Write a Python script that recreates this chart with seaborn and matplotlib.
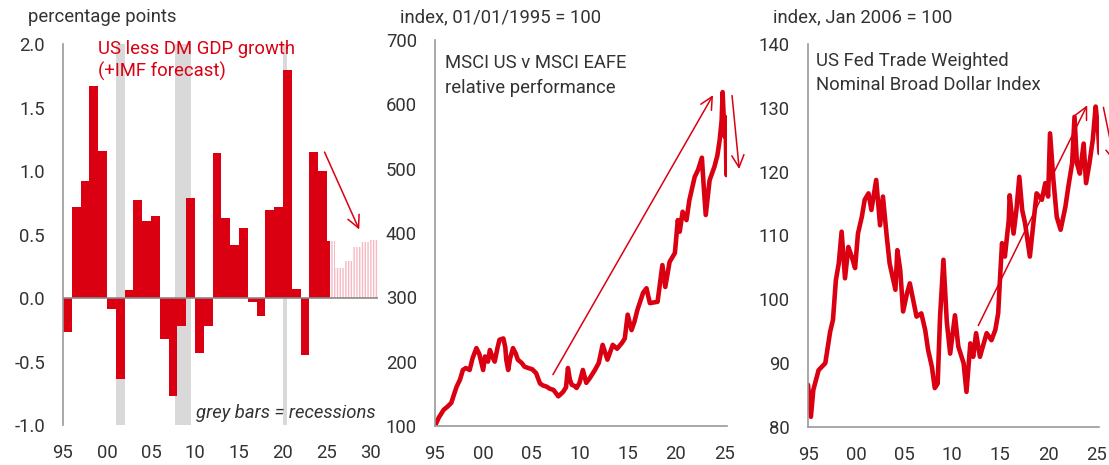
import numpy as np
import pandas as pd
import matplotlib
matplotlib.use("Agg")
import matplotlib.pyplot as plt
import seaborn as sns

# ---------------- data ----------------
gdp_years = list(range(1995, 2026))
gdp_diff = [-0.27, 0.72, 0.92, 1.67, 1.16, -0.09, -0.64, 0.06, 0.77, 0.61,
            0.65, -0.32, -0.77, -0.22, 0.79, -0.43, -0.22, 1.14, 0.63, 0.42,
            0.55, -0.03, -0.14, 0.69, 0.72, 1.80, 0.07, -0.45, 1.15, 1.00,
            0.45]
fc_years = [2025, 2026, 2027, 2028, 2029, 2030]
fc_diff = [0.45, 0.24, 0.29, 0.40, 0.44, 0.46]
recessions = [(2001.05, 2002.0), (2007.77, 2009.55), (2020.0, 2020.5)]

msci_t = [1995.0, 1995.4, 1995.9, 1996.3, 1996.7, 1997.0, 1997.25, 1997.6, 1997.9, 1998.2,
          1998.6, 1998.9, 1999.3, 1999.6, 2000.0, 2000.2, 2000.5, 2000.7, 2001.0, 2001.2,
          2001.5, 2001.7, 2002.1, 2002.3, 2002.4, 2002.6, 2002.8, 2003.1, 2003.4, 2003.6,
          2004.0, 2004.3, 2004.7, 2005.1, 2005.5, 2005.9, 2006.2, 2006.6, 2006.9, 2007.3,
          2007.6, 2007.8, 2008.1, 2008.3, 2008.6, 2008.8, 2009.0, 2009.2, 2009.5, 2009.7,
          2010.0, 2010.35, 2010.7, 2011.1, 2011.6, 2012.0, 2012.4, 2012.9, 2013.45, 2013.9,
          2014.4, 2014.7, 2015.0, 2015.4, 2015.7, 2016.0, 2016.6, 2016.95, 2017.3, 2017.7,
          2018.1, 2018.6, 2018.9, 2019.35, 2019.9, 2020.2, 2020.4, 2020.7, 2021.1, 2021.4,
          2021.95, 2022.3, 2022.7, 2022.9, 2023.1, 2023.5, 2024.0, 2024.3, 2024.55, 2024.75,
          2024.85, 2024.95, 2025.05, 2025.15, 2025.25, 2025.3]
msci_v = [100, 113, 125, 130, 136, 150, 161, 172, 187, 190,
          187, 205, 221, 212, 187, 208, 200, 218, 206, 200,
          222, 234, 236, 222, 203, 187, 205, 221, 212, 203,
          198, 192, 190, 188, 182, 166, 163, 161, 158, 156,
          150, 146, 150, 153, 160, 190, 172, 164, 162, 159,
          167, 187, 167, 175, 187, 198, 226, 203, 226, 220,
          229, 236, 273, 249, 262, 280, 307, 314, 291, 292,
          293, 350, 316, 355, 369, 420, 402, 433, 420, 451,
          487, 498, 517, 470, 428, 482, 503, 520, 545, 575,
          619, 585, 550, 580, 490, 500]

usd_t = [1995.0, 1995.3, 1995.55, 1996.1, 1996.8, 1997.3, 1997.6, 1997.9, 1998.2, 1998.5,
         1998.85, 1999.2, 1999.55, 1999.9, 2000.2, 2000.6, 2000.9, 2001.3, 2001.6, 2002.1,
         2002.5, 2002.8, 2003.2, 2003.5, 2004.1, 2004.3, 2004.6, 2004.9, 2005.3, 2005.6,
         2005.95, 2006.3, 2006.8, 2007.2, 2007.5, 2007.9, 2008.2, 2008.5, 2008.75, 2009.1,
         2009.45, 2009.8, 2010.3, 2010.65, 2011.2, 2011.5, 2011.9, 2012.2, 2012.5, 2012.9,
         2013.6, 2014.1, 2014.5, 2014.8, 2015.0, 2015.2, 2015.5, 2015.9, 2016.0, 2016.4,
         2016.7, 2017.0, 2017.3, 2017.6, 2018.1, 2018.5, 2018.8, 2019.35, 2019.7, 2020.0,
         2020.2, 2020.55, 2020.9, 2021.3, 2021.8, 2022.1, 2022.5, 2022.75, 2023.0, 2023.3,
         2023.7, 2023.95, 2024.3, 2024.65, 2024.95, 2025.2, 2025.35]
usd_v = [86.6, 81.6, 85.8, 88.9, 90.0, 94.9, 96.8, 103.0, 105.6, 110.6,
         103.3, 108.2, 106.7, 104.9, 110.3, 112.9, 115.6, 116.6, 114.0, 118.7,
         111.6, 116.1, 109.8, 105.6, 101.5, 107.7, 104.6, 98.1, 100.9, 102.5,
         99.9, 97.3, 97.8, 95.2, 92.1, 89.4, 86.1, 86.8, 97.3, 106.2,
         96.5, 91.5, 97.5, 92.6, 90.0, 85.5, 93.1, 91.0, 94.7, 91.0,
         94.7, 93.6, 95.2, 97.8, 103.5, 108.8, 106.7, 112.4, 116.3, 110.3,
         114.0, 119.2, 114.0, 111.9, 106.7, 112.4, 116.6, 115.6, 118.2, 116.1,
         126.0, 118.7, 112.9, 110.9, 114.5, 117.6, 121.3, 128.6, 121.3, 119.7,
         124.4, 118.2, 121.3, 125.0, 130.2, 126.5, 122.9]

# ---------------- style ----------------
sns.set_theme(style="white")
plt.rcParams["font.family"] = ["Roboto", "DejaVu Sans"]
plt.rcParams["font.weight"] = "normal"
plt.rcParams["axes.unicode_minus"] = False
plt.rcParams["hatch.linewidth"] = 1.0

RED = "#db0011"
PINK = "#f6b9c3"
GREY_AX = "#9a9a9a"
REC = "#d9d9d9"
TXT = "#333333"
FS = 13.3

fig = plt.figure(figsize=(11.09, 4.65), dpi=100)
ax1 = fig.add_axes([0.0568, 0.086, 0.284, 0.819])
ax2 = fig.add_axes([0.3922, 0.084, 0.2633, 0.830])
ax3 = fig.add_axes([0.7286, 0.0817, 0.2624, 0.8237])


def style_axis(ax, bottom=True):
    for s in ["top", "right"]:
        ax.spines[s].set_visible(False)
    ax.spines["left"].set_color(GREY_AX)
    ax.spines["left"].set_linewidth(1.2)
    ax.spines["bottom"].set_visible(bottom)
    ax.spines["bottom"].set_color(GREY_AX)
    ax.spines["bottom"].set_linewidth(1.2)
    ax.tick_params(axis="both", length=0, labelsize=FS, colors=TXT)
    ax.tick_params(axis="y", pad=13)
    ax.tick_params(axis="x", pad=14)
    ax.grid(False)


year_fmt = matplotlib.ticker.FuncFormatter(lambda x, p: f"{int(round(x)) % 100:02d}")

# ---------------- panel 1: bars ----------------
for a, b in recessions:
    ax1.axvspan(a, b, color=REC, lw=0, zorder=0)

widths = [1.0] * (len(gdp_years) - 1) + [0.4]
fc_x = [2025.0] + [y - 0.1 for y in fc_years[1:]]
fc_w = [0.9] + [1.0] * (len(fc_years) - 1)
ax1.bar(fc_x, fc_diff, width=fc_w, align="edge", facecolor="white",
        edgecolor=PINK, hatch="||||||", linewidth=0, zorder=1)
ax1.bar(gdp_years, gdp_diff, width=widths, align="edge", color=RED,
        linewidth=0, zorder=2)
ax1.axhline(0, color="#8a8a8a", lw=1.2, zorder=3)
ax1.set_xlim(1995, 2030.8)
ax1.set_ylim(-1.0, 2.0)
ax1.set_xticks([1995, 2000, 2005, 2010, 2015, 2020, 2025, 2030])
ax1.xaxis.set_major_formatter(year_fmt)
ax1.set_yticks([-1.0, -0.5, 0.0, 0.5, 1.0, 1.5, 2.0])
ax1.yaxis.set_major_formatter(matplotlib.ticker.FormatStrFormatter("%.1f"))
style_axis(ax1, bottom=False)
ax1.text(1999.0, 2.03, "US less DM GDP growth\n(+IMF forecast)", color=RED,
         fontsize=FS, va="top", ha="left", linespacing=1.2)
ax1.text(2030.5, -0.98, "grey bars = recessions", style="italic", color=TXT,
         fontsize=FS, va="bottom", ha="right")
ax1.annotate("", xy=(2028.8, 0.52), xytext=(2024.6, 1.17),
             arrowprops=dict(arrowstyle="->", color=RED, lw=1.1,
                             mutation_scale=22), annotation_clip=False)
fig.text(28 / 1109, 1 - 17 / 465, "percentage points", fontsize=FS, color=TXT,
         va="center", ha="left")

# ---------------- panel 2: MSCI ----------------
df2 = pd.DataFrame({"t": msci_t, "v": msci_v})
sns.lineplot(data=df2, x="t", y="v", ax=ax2, color=RED, lw=3.3)
ax2.set_xlim(1995, 2025.3)
ax2.set_ylim(100, 700)
ax2.set_xticks([1995, 2000, 2005, 2010, 2015, 2020, 2025])
ax2.xaxis.set_major_formatter(year_fmt)
ax2.set_yticks(range(100, 701, 100))
ax2.set_xlabel("")
ax2.set_ylabel("")
style_axis(ax2)
ax2.text(1996.0, 678, "MSCI US v MSCI EAFE\nrelative performance", color=TXT,
         fontsize=FS, va="top", ha="left", linespacing=1.45)
ax2.annotate("", xy=(2024.0, 618), xytext=(2007.1, 176),
             arrowprops=dict(arrowstyle="->", color=RED, lw=1.1,
                             mutation_scale=22), annotation_clip=False)
ax2.annotate("", xy=(2026.6, 495), xytext=(2025.8, 618),
             arrowprops=dict(arrowstyle="->", color=RED, lw=1.1,
                             mutation_scale=22), annotation_clip=False)
fig.text(400 / 1109, 1 - 17 / 465, "index, 01/01/1995 = 100", fontsize=FS,
         color=TXT, va="center", ha="left")

# ---------------- panel 3: USD ----------------
df3 = pd.DataFrame({"t": usd_t, "v": usd_v})
sns.lineplot(data=df3, x="t", y="v", ax=ax3, color=RED, lw=3.3)
ax3.set_xlim(1995, 2025.3)
ax3.set_ylim(80, 140)
ax3.set_xticks([1995, 2000, 2005, 2010, 2015, 2020, 2025])
ax3.xaxis.set_major_formatter(year_fmt)
ax3.set_yticks(range(80, 141, 10))
ax3.set_xlabel("")
ax3.set_ylabel("")
style_axis(ax3)
ax3.text(1995.8, 138.8, "US Fed Trade Weighted\nNominal Broad Dollar Index", color=TXT,
         fontsize=FS, va="top", ha="left", linespacing=1.45)
ax3.annotate("", xy=(2024.2, 130.8), xytext=(2012.6, 95.5),
             arrowprops=dict(arrowstyle="->", color=RED, lw=1.1,
                             mutation_scale=22), annotation_clip=False)
ax3.annotate("", xy=(2027.0, 121.0), xytext=(2025.7, 130.5),
             arrowprops=dict(arrowstyle="->", color=RED, lw=1.1,
                             mutation_scale=22), annotation_clip=False)
fig.text(773 / 1109, 1 - 17 / 465, "index, Jan 2006 = 100", fontsize=FS,
         color=TXT, va="center", ha="left")

fig.savefig("out.png", dpi=100)
